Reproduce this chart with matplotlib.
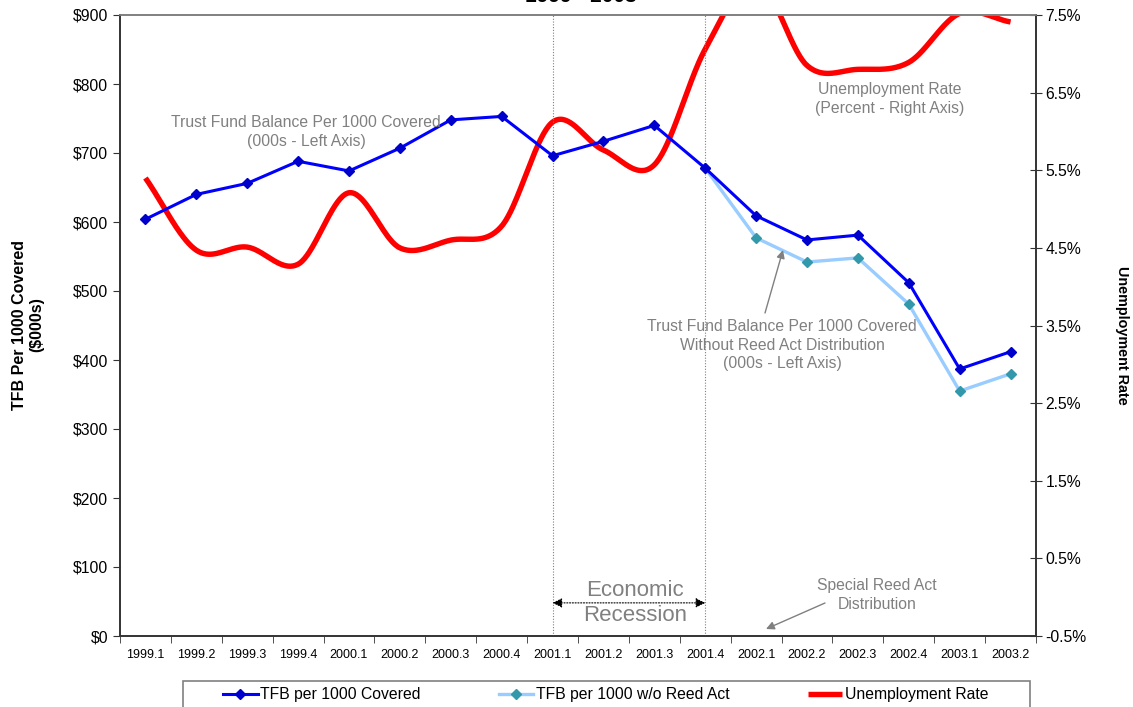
import numpy as np
import matplotlib
matplotlib.use("Agg")
import matplotlib.pyplot as plt
from matplotlib.patches import Rectangle

plt.rcParams['font.family'] = ['Liberation Sans', 'DejaVu Sans']

quarters = ["1999.1", "1999.2", "1999.3", "1999.4", "2000.1", "2000.2", "2000.3",
            "2000.4", "2001.1", "2001.2", "2001.3", "2001.4", "2002.1", "2002.2",
            "2002.3", "2002.4", "2003.1", "2003.2"]

# Trust fund balance per 1000 covered workers ($000s)
tfb_covered = [604, 640, 656, 688, 674, 707, 748, 753, 696, 717, 740, 678,
               609, 574, 581, 512, 387, 412]
# Same balance excluding the special Reed Act distribution (from 2001.4 on)
tfb_no_reed_quarters = quarters[11:]
tfb_no_reed = [678, 577, 542, 548, 481, 355, 380]
# Unemployment rate (percent)
unemployment = [5.40, 4.47, 4.51, 4.29, 5.21, 4.50, 4.60, 4.78, 6.12, 5.76,
                5.57, 7.06, 7.95, 6.85, 6.80, 6.89, 7.52, 7.41]

left_ticks = list(range(0, 901, 100))
right_ticks = [-0.5, 0.5, 1.5, 2.5, 3.5, 4.5, 5.5, 6.5, 7.5]
recession_start, recession_end = "2001.1", "2001.4"

W, H = 1133, 707
GRAY = "#808080"


def fxy(px, py):
    return px / W, 1 - py / H


def catmull_rom(xs, ys, steps=40):
    """Smooth curve through the points (Excel-style smoothed line)."""
    xs = np.asarray(xs, float)
    ys = np.asarray(ys, float)
    n = len(xs)
    out_x, out_y = [], []
    for i in range(n - 1):
        p0 = max(i - 1, 0)
        p3 = min(i + 2, n - 1)
        mx1 = (xs[i + 1] - xs[p0]) / (2 if i > 0 else 1)
        my1 = (ys[i + 1] - ys[p0]) / (2 if i > 0 else 1)
        mx2 = (xs[p3] - xs[i]) / (2 if i + 2 < n else 1)
        my2 = (ys[p3] - ys[i]) / (2 if i + 2 < n else 1)
        t = np.linspace(0, 1, steps, endpoint=(i == n - 2))
        h00 = 2 * t**3 - 3 * t**2 + 1
        h10 = t**3 - 2 * t**2 + t
        h01 = -2 * t**3 + 3 * t**2
        h11 = t**3 - t**2
        out_x.append(h00 * xs[i] + h10 * mx1 + h01 * xs[i + 1] + h11 * mx2)
        out_y.append(h00 * ys[i] + h10 * my1 + h01 * ys[i + 1] + h11 * my2)
    return np.concatenate(out_x), np.concatenate(out_y)


fig = plt.figure(figsize=(W / 100, H / 100), dpi=100)
ax = fig.add_axes([120 / W, 1 - 636 / H, (1036 - 120) / W, (636 - 15) / H])
ax2 = ax.twinx()

x = np.arange(len(quarters))
x_nr = np.array([quarters.index(q) for q in tfb_no_reed_quarters])

# Unemployment rate (right axis), smoothed
sx, sy = catmull_rom(x, unemployment)
red_line, = ax2.plot(sx, sy, color="#FF0000", lw=3.9, solid_capstyle="butt",
                     zorder=2)
ax2.set_ylim(-0.5, 7.5)

# Trust fund balance lines (left axis)
ax.set_zorder(ax2.get_zorder() + 1)
ax.patch.set_visible(False)
nr_line, = ax.plot(x_nr, tfb_no_reed, color="#99CCFF", lw=2.4, marker="D",
                   ms=5, mfc="#3399AA", mec="#3399AA", zorder=3)
cov_line, = ax.plot(x, tfb_covered, color="#0000FF", lw=2.2, marker="D",
                    ms=5, mfc="#0000CC", mec="#0000CC", zorder=4)
ax.set_ylim(0, 900)
ax.set_xlim(-0.5, len(quarters) - 0.5)

# Recession markers
i0, i1 = quarters.index(recession_start), quarters.index(recession_end)
for xi in (i0, i1):
    ax.axvline(xi, color=GRAY, ls=(0, (1, 1.5)), lw=0.8, zorder=1)
ax.annotate("", xy=(i0, 48), xytext=(i1, 48),
            arrowprops=dict(arrowstyle="<|-|>", color="black", lw=0.8,
                            ls=(0, (1, 1.5)), mutation_scale=14,
                            shrinkA=0, shrinkB=0))
ax.text((i0 + i1) / 2 + 0.12, 48, "Economic\nRecession", ha="center",
        va="center", fontsize=16, color=GRAY, linespacing=1.25, zorder=5)

# Axes styling
ax.set_xticks(x)
ax.set_xticklabels(quarters, fontsize=9)
ax.set_xticks(np.arange(-0.5, len(quarters), 1), minor=True)
ax.tick_params(axis="x", which="major", length=0, pad=9)
ax.tick_params(axis="x", which="minor", length=5, direction="out",
               color="#333333")
ax.set_yticks(left_ticks)
ax.set_yticklabels([f"${v}" for v in left_ticks], fontsize=11.3)
ax.tick_params(axis="y", length=5, direction="out", pad=3.5, color="#333333")

ax2.set_yticks(right_ticks)
ax2.set_yticklabels([f"{v:.1f}%" for v in right_ticks], fontsize=11.3)
ax2.tick_params(axis="y", length=8, direction="inout", pad=3, color="#333333")

for a in (ax, ax2):
    a.spines["top"].set_color(GRAY)
    a.spines["top"].set_linewidth(1.2)
    for s in ("left", "right", "bottom"):
        a.spines[s].set_color("#333333")
        a.spines[s].set_linewidth(1.2)

# Titles and axis labels
fig.text(*fxy(581, 2), "1999 - 2003", ha="center", va="baseline",
         fontsize=15, fontweight="bold")
fig.text(*fxy(28, 325), "TFB Per 1000 Covered\n($000s)", rotation=90,
         ha="center", va="center", fontsize=11.5, fontweight="bold",
         linespacing=1.15)
fig.text(*fxy(1122, 335), "Unemployment Rate", rotation=270, ha="center",
         va="center", fontsize=10.4, fontweight="bold")

# Series annotations
note_kw = dict(ha="center", va="center", fontsize=11.3, color=GRAY,
               linespacing=1.3)
fig.text(*fxy(306, 132), "Trust Fund Balance Per 1000 Covered\n(000s - Left Axis)",
         **note_kw)
fig.text(*fxy(890, 99), "Unemployment Rate\n(Percent - Right Axis)", **note_kw)
fig.text(*fxy(782, 345),
         "Trust Fund Balance Per 1000 Covered\nWithout Reed Act Distribution\n(000s - Left Axis)",
         **note_kw)
fig.text(*fxy(877, 595), "Special Reed Act\nDistribution", **note_kw)

arrow_kw = dict(arrowstyle="-|>", color=GRAY, lw=1.0, mutation_scale=12,
                shrinkA=0, shrinkB=0)
ax.annotate("", xy=fxy(783, 250), xytext=fxy(765, 313),
            xycoords="figure fraction", textcoords="figure fraction",
            arrowprops=arrow_kw)
ax.annotate("", xy=fxy(766, 629), xytext=fxy(825, 603),
            xycoords="figure fraction", textcoords="figure fraction",
            arrowprops=arrow_kw)

# Legend along the bottom edge
fig.add_artist(Rectangle(fxy(183, 720), (1030 - 183) / W, 39 / H,
                         transform=fig.transFigure, fill=False,
                         edgecolor=GRAY, lw=1.2))
fig.legend([cov_line, nr_line, red_line],
           ["TFB per 1000 Covered", "TFB per 1000 w/o Reed Act",
            "Unemployment Rate"],
           loc="center left", bbox_to_anchor=fxy(223, 695), ncol=3,
           frameon=False, fontsize=11.3, handlelength=2.2, handletextpad=0.15,
           columnspacing=5.0, borderpad=0, borderaxespad=0)

fig.savefig("out.png", dpi=100)
